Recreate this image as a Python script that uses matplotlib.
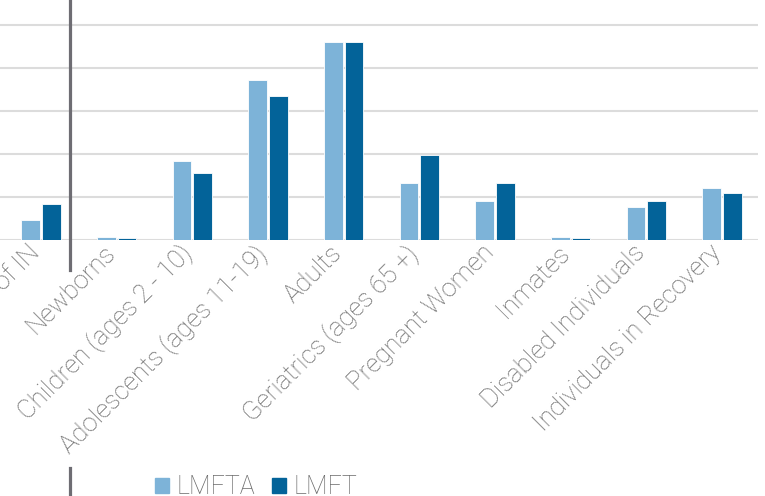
import matplotlib
matplotlib.use('Agg')
import matplotlib.pyplot as plt
import numpy as np
from matplotlib.lines import Line2D
from matplotlib.patches import Patch

# donnees (unites arbitraires, 10 par ligne de grille)
categories = ['Outside of IN', 'Newborns', 'Children (ages 2 - 10)', 'Adolescents (ages 11-19)',
              'Adults', 'Geriatrics (ages 65 +)', 'Pregnant Women', 'Inmates',
              'Disabled Individuals', 'Individuals in Recovery']
lmfta = [4.6, 0.8, 18.4, 37.1, 45.9, 13.3, 9.1, 0.8, 7.7, 12.1]
lmft = [8.4, 0.5, 15.6, 33.5, 45.9, 19.8, 13.3, 0.5, 9.1, 11.0]
series_names = ['LMFTA', 'LMFT']

c_light = '#7db3d8'
c_dark = '#036399'
gris_txt = '#6a6a6a'
gris_grid = '#dcdcdc'

plt.rcParams['font.family'] = ['Roboto', 'DejaVu Sans']

fig = plt.figure(figsize=(7.65, 4.96), dpi=100)
ax = fig.add_axes([0, 256/496, 758/765, 240/496])

x = np.arange(len(categories))
w = 0.245
ax.bar(x - 0.137, lmfta, w, color=c_light, edgecolor='white', linewidth=0.6, zorder=3)
ax.bar(x + 0.137, lmft, w, color=c_dark, edgecolor='white', linewidth=0.6, zorder=3)

ax.set_xlim(-0.542, 9.477)
ax.set_ylim(0, 55.7)
ax.set_yticks(np.arange(0, 51, 10))
ax.yaxis.grid(True, color=gris_grid, linewidth=1.5, zorder=0)
ax.tick_params(axis='y', left=False, labelleft=False)
ax.tick_params(axis='x', bottom=False, pad=-3)
for s in ax.spines.values():
    s.set_visible(False)
ax.axhline(0, color=gris_grid, linewidth=1.8, zorder=2)

ax.set_xticks(x - 0.18)
ax.set_xticklabels(categories, rotation=45, ha='right', va='top', rotation_mode='anchor',
                   color=gris_txt, fontsize=18.5, fontweight='light')

# barre verticale grise par dessus
for y0, y1 in [(0, 270), (468, 496)]:
    fig.add_artist(Line2D([69.5/765, 69.5/765], [1 - y0/496, 1 - y1/496],
                          color='#6e6d73', linewidth=2.3, transform=fig.transFigure))

handles = [Patch(color=c_light), Patch(color=c_dark)]
leg = fig.legend(handles, series_names, loc='center', bbox_to_anchor=(256/765, 9/496),
                 ncol=2, frameon=False, handlelength=0.55, handleheight=0.55,
                 handletextpad=0.3, columnspacing=0.7,
                 prop={'size': 18, 'weight': 'light'})
for t in leg.get_texts():
    t.set_color(gris_txt)

fig.savefig('out.png', dpi=100)
